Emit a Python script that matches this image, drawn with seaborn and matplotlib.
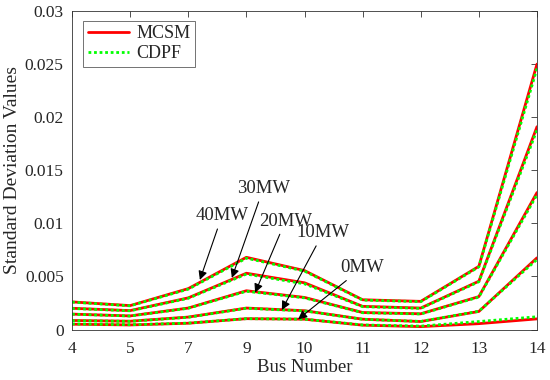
import seaborn as sns
import matplotlib.pyplot as plt
import numpy as np
import pandas as pd

buses = ['4', '5', '7', '9', '10', '11', '12', '13', '14']
loads = ['40MW', '30MW', '20MW', '10MW', '0MW']

mcsm = {
    '40MW': [0.00260, 0.00225, 0.00385, 0.00680, 0.00555, 0.00280, 0.00265, 0.00595, 0.02500],
    '30MW': [0.00200, 0.00178, 0.00298, 0.00530, 0.00440, 0.00218, 0.00202, 0.00455, 0.01910],
    '20MW': [0.00145, 0.00128, 0.00202, 0.00365, 0.00302, 0.00160, 0.00148, 0.00310, 0.01290],
    '10MW': [0.00085, 0.00078, 0.00117, 0.00202, 0.00177, 0.00097, 0.00075, 0.00170, 0.00675],
    '0MW':  [0.00050, 0.00043, 0.00059, 0.00102, 0.00097, 0.00041, 0.00027, 0.00055, 0.00100],
}
cdpf = {
    '40MW': [0.00258, 0.00223, 0.00380, 0.00672, 0.00550, 0.00277, 0.00262, 0.00590, 0.02460],
    '30MW': [0.00198, 0.00176, 0.00294, 0.00522, 0.00430, 0.00215, 0.00199, 0.00450, 0.01880],
    '20MW': [0.00144, 0.00127, 0.00200, 0.00360, 0.00298, 0.00158, 0.00146, 0.00306, 0.01270],
    '10MW': [0.00084, 0.00077, 0.00115, 0.00200, 0.00175, 0.00096, 0.00076, 0.00172, 0.00660],
    '0MW':  [0.00052, 0.00045, 0.00060, 0.00102, 0.00097, 0.00043, 0.00032, 0.00075, 0.00120],
}

rows = []
for method, table in [('MCSM', mcsm), ('CDPF', cdpf)]:
    for load in loads:
        for i, v in enumerate(table[load]):
            rows.append({'bus': i, 'value': v, 'method': method, 'load': load})
df = pd.DataFrame(rows)

sns.set_style('white')
plt.rcParams['font.family'] = ['Liberation Serif', 'DejaVu Serif']

fig = plt.figure(figsize=(5.5, 3.8), dpi=100)
ax = fig.add_axes([72 / 550, 1 - 329.5 / 380, 465 / 550, 318.5 / 380])

sns.lineplot(data=df, x='bus', y='value', hue='method', style='method',
             units='load', estimator=None, ax=ax,
             palette={'MCSM': '#ff0000', 'CDPF': '#00ff00'},
             dashes={'MCSM': '', 'CDPF': (1, 1)}, linewidth=2, sort=False)

ax.set_xlim(0, len(buses) - 1)
ax.set_ylim(0, 0.03)
ax.set_xticks(range(len(buses)))
ax.set_xticklabels(buses)
ax.set_yticks([0, 0.005, 0.01, 0.015, 0.02, 0.025, 0.03])
ax.set_yticklabels(['0', '0.005', '0.01', '0.015', '0.02', '0.025', '0.03'])
ax.tick_params(direction='in', top=True, right=True, labelsize=12.5, length=4,
               width=0.6, color='#333333')
ax.tick_params(axis='x', pad=8)
ax.tick_params(axis='y', pad=6)
for s in ax.spines.values():
    s.set_linewidth(0.6)
    s.set_color('#333333')
ax.set_xlabel('Bus Number', fontsize=13.5, labelpad=2)
ax.set_ylabel('Standard Deviation Values', fontsize=14, labelpad=3)

leg = ax.legend(loc='upper left', bbox_to_anchor=(0.024, 0.969), fontsize=13,
                frameon=True, fancybox=False, handlelength=2.3, borderaxespad=0,
                borderpad=0.25, labelspacing=0.15, handletextpad=0.4)
leg.get_frame().set_edgecolor('#333333')
leg.get_frame().set_linewidth(0.6)

# annotations: label, text position, arrow head (bus index, value)
notes = [
    ('40MW', (2.58, 0.0107), (2.20, 0.00467)),
    ('30MW', (3.29, 0.01325), (2.75, 0.00486)),
    ('20MW', (3.67, 0.0102), (3.15, 0.00347)),
    ('10MW', (4.32, 0.0091), (3.61, 0.00184)),
    ('0MW', (4.99, 0.0058), (3.89, 0.00096)),
]
for label, txt, head in notes:
    ax.annotate(label, xy=head, xytext=txt, fontsize=13.5, ha='center', va='center',
                arrowprops=dict(arrowstyle='-|>', color='black', lw=0.8,
                                mutation_scale=13, shrinkA=1, shrinkB=0))

fig.savefig('out.png', dpi=100)
